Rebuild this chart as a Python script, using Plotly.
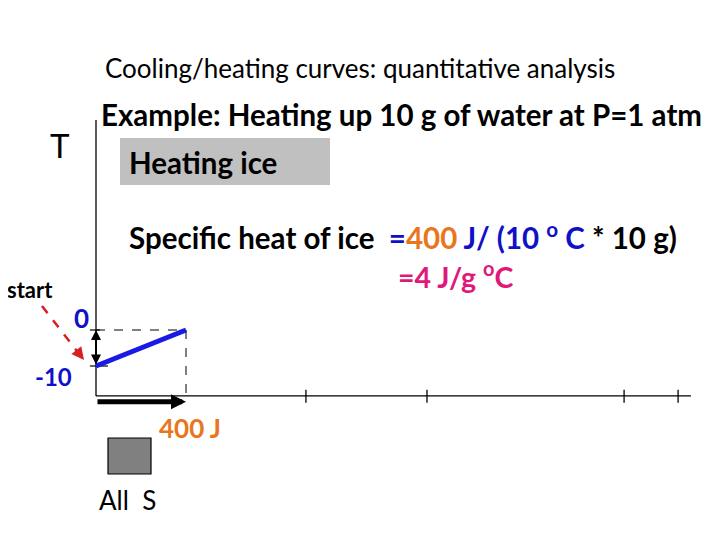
import plotly.graph_objects as go

# ---- data ----
energy_J = [0, 400]          # heat added while heating ice
temp_C = [-10, 0]            # temperature of ice
tick_J = [933, 1471, 2347, 2587]   # unlabeled tick marks on the energy axis
axis_T_min, axis_T_max = -18.3, 58.3
axis_J_max = 2644
ylabels = ["0", "-10"]
ylabel_vals = [0, -10]

W, H = 720, 540
OFF = 8                      # page body margin of the html page
FW, FH = W - OFF, H - OFF    # figure size so it fits the window


# pixel helpers for text placement (window pixel coords -> paper)
def px(x):
    return (x - OFF) / FW


def py(y):
    return 1 - (y - OFF) / FH


FONT = "Lato, Carlito, 'Open Sans', sans-serif"
BLUE = "#1010C8"
ORANGE = "#E8761C"
PINK = "#E0187A"

fig = go.Figure()

# axes lines
fig.add_trace(go.Scatter(x=[0, 0], y=[axis_T_min, axis_T_max], mode="lines",
                         line=dict(color="black", width=1.3), hoverinfo="skip"))
fig.add_trace(go.Scatter(x=[0, axis_J_max], y=[axis_T_min, axis_T_min], mode="lines",
                         line=dict(color="black", width=1.3), hoverinfo="skip"))
# tick marks on energy axis
for t in tick_J:
    fig.add_trace(go.Scatter(x=[t, t], y=[axis_T_min + 1.7, axis_T_min - 1.9], mode="lines",
                             line=dict(color="black", width=1.3), hoverinfo="skip"))
# dashed guides
fig.add_trace(go.Scatter(x=[energy_J[0], energy_J[1]], y=[temp_C[1], temp_C[1]], mode="lines",
                         line=dict(color="black", width=1, dash="dash"), hoverinfo="skip"))
fig.add_trace(go.Scatter(x=[energy_J[1], energy_J[1]], y=[temp_C[1], axis_T_min], mode="lines",
                         line=dict(color="black", width=1, dash="dash"), hoverinfo="skip"))
# short solid ticks at 0 and -10
fig.add_trace(go.Scatter(x=[-27, 18], y=[temp_C[1], temp_C[1]], mode="lines",
                         line=dict(color="black", width=1.2), hoverinfo="skip"))
fig.add_trace(go.Scatter(x=[-27, 53], y=[temp_C[0], temp_C[0]], mode="lines",
                         line=dict(color="black", width=1.2), hoverinfo="skip"))
# heating curve
fig.add_trace(go.Scatter(x=energy_J, y=temp_C, mode="lines",
                         line=dict(color="#1A1AE6", width=5), hoverinfo="skip"))

# double arrow (temperature change)
fig.add_annotation(x=0, y=temp_C[1], ax=0, ay=temp_C[0], xref="x", yref="y", axref="x", ayref="y",
                   showarrow=True, arrowhead=2, arrowsize=1, arrowwidth=2, arrowside="end+start",
                   arrowcolor="black", text="")
# thick energy arrow
fig.add_annotation(x=energy_J[1], y=axis_T_min - 1.6, ax=energy_J[0], ay=axis_T_min - 1.6,
                   xref="x", yref="y", axref="x", ayref="y", showarrow=True, arrowhead=2,
                   arrowsize=0.6, arrowwidth=5, arrowcolor="black", text="")

# red dashed "start" arrow
fig.add_shape(type="line", xref="paper", yref="paper", x0=px(42), y0=py(306), x1=px(80), y1=py(355),
              line=dict(color="#D82020", width=2.5, dash="dash"))
fig.add_annotation(x=px(84), y=py(360), ax=-7, ay=-9, xref="paper", yref="paper",
                   showarrow=True, arrowhead=2, arrowsize=1,
                   arrowwidth=2.5, arrowcolor="#D82020", text="")

# gray boxes
fig.add_shape(type="rect", xref="paper", yref="paper", x0=px(120), x1=px(330), y0=py(138), y1=py(185),
              fillcolor="#C0C0C0", line=dict(width=0), layer="below")
fig.add_shape(type="rect", xref="paper", yref="paper", x0=px(108), x1=px(151), y0=py(438), y1=py(474),
              fillcolor="#808080", line=dict(color="black", width=1.2))


def txt(x, y, s, size, color="black", bold=False, anchor="left"):
    fig.add_annotation(x=px(x), y=py(y), xref="paper", yref="paper", text=("<b>%s</b>" % s) if bold else s,
                       showarrow=False, xanchor=anchor, yanchor="middle",
                       font=dict(family=FONT, size=size, color=color))


txt(360, 68, "Cooling/heating curves: quantitative analysis", 26, anchor="center")
txt(99, 115, "Example: Heating up 10 g of water at P=1 atm", 29.5, bold=True)
txt(60, 145, "T", 33, anchor="center")
txt(127, 162, "Heating ice", 29.5, bold=True)
txt(127, 236, "Specific heat of ice  <span style='color:%s'>=</span><span style='color:%s'>400</span>"
              "<span style='color:%s'> J/ (10 <sup>o</sup> C</span> * 10 g)" % (BLUE, ORANGE, BLUE),
    29.5, bold=True)
txt(396, 275, "<span style='color:%s'>=4 J/g <sup>o</sup>C</span>" % PINK, 28.5, bold=True)
txt(30, 289, "start", 22, bold=True, anchor="center")
fig.add_annotation(x=px(91), y=py(318), xref="paper", yref="paper", text="<b>%s</b>" % ylabels[0],
                   showarrow=False, xanchor="right", yanchor="middle",
                   font=dict(family=FONT, size=26, color=BLUE))
fig.add_annotation(x=px(74), y=py(376), xref="paper", yref="paper", text="<b>%s</b>" % ylabels[1],
                   showarrow=False, xanchor="right", yanchor="middle",
                   font=dict(family=FONT, size=24, color=BLUE))
txt(157, 428, "%d J" % energy_J[1], 26, color=ORANGE, bold=True)
txt(97, 500, "All&nbsp;&nbsp;S", 26)

# map data to window pixels: J -> 96 + 0.225*J ; T -> 330 - 3.6*T
X0, Y0 = 96 - OFF, 330 - OFF
fig.update_layout(
    width=FW, height=FH, margin=dict(l=0, r=0, t=0, b=0),
    paper_bgcolor="white", plot_bgcolor="white", showlegend=False,
    xaxis=dict(range=[-X0 / 0.225, (FW - X0) / 0.225], visible=False, fixedrange=True),
    yaxis=dict(range=[(Y0 - FH) / 3.6, Y0 / 3.6], visible=False, fixedrange=True),
)
fig.write_html("out.html")
